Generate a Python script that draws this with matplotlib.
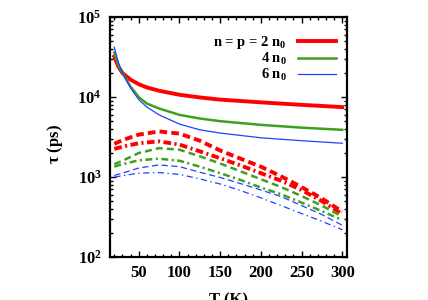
import numpy as np
import matplotlib
matplotlib.use("Agg")
import matplotlib.pyplot as plt
from matplotlib.ticker import LogLocator, MultipleLocator, FixedLocator, FixedFormatter, NullFormatter

plt.rcParams['font.family'] = 'Liberation Serif'
plt.rcParams['font.weight'] = 'bold'
plt.rcParams['mathtext.fontset'] = 'custom'
plt.rcParams['mathtext.rm'] = 'Liberation Serif:bold'
plt.rcParams['mathtext.bf'] = 'Liberation Serif:bold'
plt.rcParams['mathtext.it'] = 'Liberation Serif:bold:italic'
plt.rcParams['mathtext.default'] = 'bf'
plt.rcParams['lines.scale_dashes'] = False

# solid curves (T in K, tau in ps)
T_solid = [20, 25, 30, 40, 50, 60, 75, 100, 125, 150, 200, 250, 300]
tau_2n0 = [3.2e4, 2.4e4, 2.0e4, 1.65e4, 1.45e4, 1.32e4, 1.2e4, 1.07e4, 9.9e3, 9.3e3, 8.6e3, 8.0e3, 7.5e3]
tau_4n0 = [3.6e4, 2.5e4, 2.0e4, 1.35e4, 1.0e4, 8.3e3, 7.2e3, 6.0e3, 5.4e3, 5.0e3, 4.5e3, 4.15e3, 3.9e3]
tau_6n0 = [4.2e4, 2.7e4, 2.0e4, 1.3e4, 9.3e3, 7.5e3, 6.0e3, 4.6e3, 3.9e3, 3.55e3, 3.1e3, 2.85e3, 2.65e3]

# dashed / dash-dot curves
T_dash = [20, 30, 50, 75, 100, 125, 150, 175, 200, 225, 250, 275, 300]
red_dash = [2.6e3, 2.9e3, 3.4e3, 3.72e3, 3.5e3, 2.85e3, 2.15e3, 1.7e3, 1.35e3, 1.02e3, 750, 540, 370]
red_dd = [2.25e3, 2.4e3, 2.65e3, 2.8e3, 2.55e3, 2.1e3, 1.72e3, 1.4e3, 1.12e3, 900, 690, 500, 345]
green_dash = [1.45e3, 1.6e3, 2.0e3, 2.3e3, 2.2e3, 1.82e3, 1.48e3, 1.18e3, 940, 750, 580, 440, 320]
green_dd = [1.35e3, 1.45e3, 1.62e3, 1.7e3, 1.6e3, 1.35e3, 1.12e3, 920, 740, 610, 480, 375, 290]
blue_dash = [1.05e3, 1.12e3, 1.3e3, 1.42e3, 1.35e3, 1.15e3, 990, 830, 690, 570, 440, 340, 250]
blue_dd = [1.0e3, 1.04e3, 1.12e3, 1.14e3, 1.08e3, 950, 820, 680, 550, 440, 350, 280, 220]

labels = ['n = p = 2 n$_0$', '4 n$_0$', '6 n$_0$']
ytick_vals = [1e2, 1e3, 1e4, 1e5]
ytick_labels = ['$10^{2}$', '$10^{3}$', '$10^{4}$', '$10^{5}$']

red = '#ff0000'
green = '#3f9f1f'
blue = '#2040ff'

fig = plt.figure(figsize=(4.28, 3.0), dpi=100)
ax = fig.add_axes([0.257, 0.143, 0.553, 0.8])

ax.plot(T_solid, tau_2n0, color=red, lw=2.8, label=labels[0])
ax.plot(T_solid, tau_4n0, color=green, lw=1.8, label=labels[1])
ax.plot(T_solid, tau_6n0, color=blue, lw=0.9, label=labels[2])

ax.plot(T_dash, red_dash, color=red, lw=2.8, dashes=(5.5, 3))
ax.plot(T_dash, red_dd, color=red, lw=2.8, dashes=(5.5, 2.5, 1.5, 2.5))
ax.plot(T_dash, green_dash, color=green, lw=1.8, dashes=(5, 3))
ax.plot(T_dash, green_dd, color=green, lw=1.8, dashes=(5, 2.5, 1.5, 2.5))
ax.plot(T_dash, blue_dash, color=blue, lw=0.9, dashes=(4.5, 2.5))
ax.plot(T_dash, blue_dd, color=blue, lw=0.9, dashes=(4.5, 2.5, 1, 2.5))

ax.set_yscale('log')
ax.set_xlim(14.7, 305.4)
ax.set_ylim(1e2, 1e5)

ax.xaxis.set_major_locator(MultipleLocator(50))
ax.xaxis.set_minor_locator(MultipleLocator(10))
ax.yaxis.set_major_locator(FixedLocator(ytick_vals))
ax.yaxis.set_major_formatter(FixedFormatter(ytick_labels))
ax.yaxis.set_minor_locator(LogLocator(base=10, subs=np.arange(2, 10)))
ax.yaxis.set_minor_formatter(NullFormatter())

ax.tick_params(which='both', direction='in', top=True, right=True, width=1.0, labelsize=12)
ax.tick_params(which='major', length=4, pad=6)
ax.tick_params(which='minor', length=2)
for sp in ax.spines.values():
    sp.set_linewidth(1.6)

ax.set_xlabel('T (K)', fontsize=12, fontweight='bold', labelpad=8)
ax.set_ylabel(r'$\tau$ (ps)', fontsize=12, fontweight='bold')
ax.yaxis.set_label_coords(-0.19, 0.47)

ax.legend(loc='upper right', bbox_to_anchor=(0.955, 0.93), frameon=False, markerfirst=False,
          borderaxespad=0, borderpad=0,
          handlelength=2.6, handletextpad=0.8, labelspacing=0.0,
          prop={'family': 'Liberation Serif', 'weight': 'bold', 'size': 10.5})

fig.savefig('out.png', dpi=100)
